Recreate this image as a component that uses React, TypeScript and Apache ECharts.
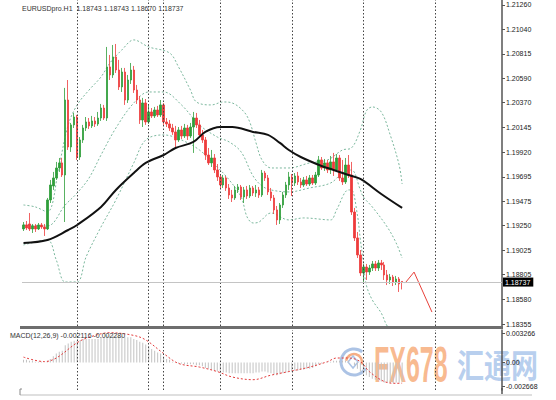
import React, { useEffect, useRef } from "react";
import * as echarts from "echarts";

const TITLE = "EURUSDpro.H1  1.18743 1.18743 1.18670 1.18737";
const MACD_TITLE = "MACD(12,26,9) -0.002116 -0.002280";
const PRICE_TICKS = [1.18355, 1.1858, 1.18805, 1.19025, 1.1925, 1.19475, 1.19695, 1.1992, 1.20145, 1.2037, 1.2059, 1.20815, 1.2104, 1.2126];
const MACD_TICKS = [-0.002668, 0, 0.003266];
const LAST_PRICE = 1.18737;
const SLOT_COUNT = 161;
const DAY_LINES = [18, 42, 47, 66, 90, 114, 138];

// [open, high, low, close]
const CANDLES: number[][] = [
  [1.19221, 1.19284, 1.19202, 1.19257], [1.19257, 1.19293, 1.19211, 1.1923], [1.19266, 1.19366, 1.19202, 1.19221], [1.19221, 1.19266, 1.19184, 1.19248],
  [1.19248, 1.19266, 1.19193, 1.19221], [1.19221, 1.19275, 1.19211, 1.19257], [1.19257, 1.19275, 1.19221, 1.19239], [1.19239, 1.19266, 1.19157, 1.19221],
  [1.19221, 1.19503, 1.19211, 1.19485], [1.19485, 1.19667, 1.19457, 1.19621], [1.19612, 1.1974, 1.19576, 1.19685], [1.19685, 1.19831, 1.19667, 1.19776],
  [1.19776, 1.19867, 1.1974, 1.19822], [1.19822, 1.19867, 1.19694, 1.19712], [1.19712, 1.20505, 1.19284, 1.20395], [1.20395, 1.20577, 1.1994, 1.19967],
  [1.19967, 1.20186, 1.19922, 1.20168], [1.20168, 1.20277, 1.2014, 1.2024], [1.2024, 1.20259, 1.19849, 1.19876], [1.19876, 1.20058, 1.19849, 1.20031],
  [1.20031, 1.20168, 1.20004, 1.2014], [1.2014, 1.2024, 1.20113, 1.20195], [1.20195, 1.20231, 1.20131, 1.20159], [1.20159, 1.2025, 1.2014, 1.20204],
  [1.20204, 1.2024, 1.20149, 1.20177], [1.20177, 1.20286, 1.20159, 1.20231], [1.20231, 1.20359, 1.20204, 1.20322], [1.20322, 1.2035, 1.20213, 1.20231],
  [1.20231, 1.20878, 1.20204, 1.20696], [1.20696, 1.20805, 1.20577, 1.20623], [1.20623, 1.20896, 1.20596, 1.20787], [1.20787, 1.20905, 1.20641, 1.20668],
  [1.20668, 1.2076, 1.20486, 1.20514], [1.20514, 1.20687, 1.20468, 1.2065], [1.2065, 1.20687, 1.2035, 1.20395], [1.20395, 1.20623, 1.20368, 1.20577],
  [1.20577, 1.20732, 1.20541, 1.20668], [1.20668, 1.20705, 1.20459, 1.20486], [1.20486, 1.20532, 1.20359, 1.20395], [1.20395, 1.20432, 1.20177, 1.20213],
  [1.20213, 1.20414, 1.20149, 1.20368], [1.20368, 1.20404, 1.20168, 1.20195], [1.20195, 1.2035, 1.20177, 1.20286], [1.20286, 1.20322, 1.20231, 1.2025],
  [1.2025, 1.20332, 1.20231, 1.20304], [1.20304, 1.20341, 1.2024, 1.20259], [1.20259, 1.20395, 1.2024, 1.2035], [1.2035, 1.20368, 1.20168, 1.20195],
  [1.20195, 1.20231, 1.20149, 1.20177], [1.20177, 1.20213, 1.20113, 1.2014], [1.2014, 1.20177, 1.20077, 1.20104], [1.20104, 1.20159, 1.19967, 1.20031],
  [1.20031, 1.20149, 1.20013, 1.20122], [1.20122, 1.20159, 1.2004, 1.20067], [1.20067, 1.20177, 1.20049, 1.2014], [1.2014, 1.20168, 1.20031, 1.20067],
  [1.20067, 1.20186, 1.20049, 1.20149], [1.20149, 1.20286, 1.19913, 1.20231], [1.20231, 1.20277, 1.2014, 1.20168], [1.20168, 1.20213, 1.20058, 1.20077],
  [1.20077, 1.20122, 1.20004, 1.20031], [1.20031, 1.20058, 1.19849, 1.19894], [1.19894, 1.19958, 1.19803, 1.19822], [1.19822, 1.1994, 1.19785, 1.19867],
  [1.19867, 1.19903, 1.1973, 1.19758], [1.19758, 1.19812, 1.19658, 1.19694], [1.19694, 1.19721, 1.19585, 1.19621], [1.19621, 1.19712, 1.19594, 1.19685],
  [1.19685, 1.19703, 1.19567, 1.19594], [1.19594, 1.1963, 1.19494, 1.1953], [1.1953, 1.19576, 1.19466, 1.19503], [1.19503, 1.19612, 1.19485, 1.19576],
  [1.19576, 1.1963, 1.19548, 1.19603], [1.19603, 1.19621, 1.19485, 1.19512], [1.19512, 1.19603, 1.19457, 1.19576], [1.19576, 1.19612, 1.19494, 1.19521],
  [1.19521, 1.19621, 1.19503, 1.19594], [1.19594, 1.19612, 1.19521, 1.19548], [1.19548, 1.19621, 1.19512, 1.19576], [1.19576, 1.19603, 1.19503, 1.1953],
  [1.1953, 1.19758, 1.19512, 1.1973], [1.1973, 1.19749, 1.19658, 1.19685], [1.19685, 1.19712, 1.1953, 1.19558], [1.19558, 1.19594, 1.19476, 1.19503],
  [1.19503, 1.1953, 1.19357, 1.19394], [1.19394, 1.1943, 1.19257, 1.19303], [1.19303, 1.19457, 1.19266, 1.19439], [1.19439, 1.19558, 1.19412, 1.1953],
  [1.1953, 1.19649, 1.19503, 1.19621], [1.19621, 1.1974, 1.19576, 1.19694], [1.19694, 1.19721, 1.19521, 1.19639], [1.19639, 1.1973, 1.19612, 1.19703],
  [1.19703, 1.1974, 1.19621, 1.19649], [1.19649, 1.19685, 1.19594, 1.19621], [1.19621, 1.19694, 1.19603, 1.19667], [1.19667, 1.19703, 1.19612, 1.1963],
  [1.1963, 1.19712, 1.19612, 1.19685], [1.19685, 1.19712, 1.19621, 1.19639], [1.19639, 1.1974, 1.19621, 1.19712], [1.19712, 1.19885, 1.19694, 1.19849],
  [1.19849, 1.19876, 1.19758, 1.19776], [1.19776, 1.19858, 1.19749, 1.19822], [1.19822, 1.19849, 1.1973, 1.19758], [1.19758, 1.19885, 1.19721, 1.19831],
  [1.19831, 1.19913, 1.19703, 1.19758], [1.19758, 1.19903, 1.1974, 1.19867], [1.19867, 1.19894, 1.19658, 1.19685], [1.19685, 1.19849, 1.19621, 1.19649],
  [1.19649, 1.19867, 1.1963, 1.19803], [1.19803, 1.19894, 1.19685, 1.19712], [1.19712, 1.19831, 1.19348, 1.19375], [1.19375, 1.19412, 1.19111, 1.19139],
  [1.19139, 1.19193, 1.18956, 1.18984], [1.18984, 1.19029, 1.18793, 1.1882], [1.1882, 1.18902, 1.1872, 1.18874], [1.18874, 1.18902, 1.18756, 1.18829],
  [1.18829, 1.18893, 1.18802, 1.18865], [1.18865, 1.18929, 1.18838, 1.18902], [1.18902, 1.18929, 1.18838, 1.18865], [1.18865, 1.18938, 1.18838, 1.18911],
  [1.18911, 1.18938, 1.18847, 1.18893], [1.18893, 1.1892, 1.18756, 1.18802], [1.18802, 1.18847, 1.1871, 1.18756], [1.18756, 1.18811, 1.1872, 1.18783],
  [1.18783, 1.18802, 1.18701, 1.18738], [1.18738, 1.18793, 1.1871, 1.18765], [1.18765, 1.18783, 1.18647, 1.1872], [1.18743, 1.18743, 1.1867, 1.18737],
];

// [candle index, value]
const MA: number[][] = [
  [0, 1.19093], [8, 1.1912], [15, 1.19211], [18, 1.19257], [26, 1.19421], [31, 1.19576], [37, 1.1973], [41, 1.19822],
  [47, 1.19894], [51, 1.19958], [57, 1.20013], [61, 1.20104], [66, 1.20149], [70, 1.20149], [77, 1.20104], [82, 1.20077],
  [86, 1.20004], [89, 1.1994], [93, 1.19876], [100, 1.19794], [104, 1.19758], [109, 1.19712], [113, 1.19676], [120, 1.19539], [127, 1.19412],
];
const BB_UPPER: number[][] = [
  [0, 1.19439], [4, 1.19421], [8, 1.19375], [12, 1.19803], [15, 1.20168], [18, 1.2035], [22, 1.20486], [26, 1.20605],
  [29, 1.20732], [33, 1.20851], [37, 1.20942], [42, 1.20878], [49, 1.20823], [52, 1.20696], [56, 1.20486], [58, 1.20377],
  [63, 1.2035], [67, 1.20377], [70, 1.20368], [74, 1.20286], [76, 1.20186], [78, 1.20004], [80, 1.19849], [83, 1.19776],
  [89, 1.19776], [96, 1.19822], [102, 1.19849], [107, 1.1994], [110, 1.19958], [113, 1.20122], [115, 1.20295], [117, 1.20332],
  [120, 1.20286], [123, 1.20077], [126, 1.19803], [127, 1.1963],
];
const BB_MIDDLE: number[][] = [
  [0, 1.19257], [8, 1.19248], [14, 1.19439], [18, 1.19548], [22, 1.19685], [26, 1.19894], [31, 1.2014], [37, 1.20368],
  [42, 1.20468], [47, 1.20468], [53, 1.2035], [59, 1.20168], [65, 1.20058], [69, 1.20013], [73, 1.19922], [77, 1.19703],
  [80, 1.19612], [83, 1.19576], [89, 1.19558], [96, 1.19594], [103, 1.19639], [107, 1.1973], [110, 1.19758], [113, 1.19576],
  [114, 1.19512], [117, 1.19421], [122, 1.19239], [125, 1.19093], [127, 1.18956],
];
const BB_LOWER: number[][] = [
  [0, 1.19075], [8, 1.1912], [11, 1.18938], [14, 1.18738], [18, 1.18738], [21, 1.18966], [26, 1.19239], [31, 1.19485],
  [37, 1.19822], [41, 1.20031], [47, 1.20077], [53, 1.20031], [59, 1.1994], [65, 1.19785], [69, 1.19667], [73, 1.19512],
  [75, 1.1933], [77, 1.19275], [79, 1.19284], [83, 1.19366], [89, 1.19303], [94, 1.19321], [103, 1.19303], [105, 1.19394],
  [109, 1.19576], [110, 1.19576], [112, 1.19348], [113, 1.1912], [114, 1.1892], [115, 1.1871], [117, 1.18574], [120, 1.18455],
  [122, 1.18337], [125, 1.18246], [127, 1.18164],
];
const TREND: number[][] = [[128, 1.18728], [131, 1.18828], [137, 1.18464]];

const MACD_HIST: number[] = [
  0.0003, 0.0003, 0.0002, 0.0002, 0.0001, 0.0001, 0.0001, 0.0,
  0.0002, 0.0004, 0.0007, 0.001, 0.0012, 0.0013, 0.0019, 0.0021,
  0.0023, 0.0024, 0.0024, 0.0025, 0.0026, 0.0026, 0.0026, 0.0026,
  0.0026, 0.0026, 0.0028, 0.0028, 0.003, 0.003, 0.003, 0.003,
  0.0029, 0.0029, 0.0028, 0.0028, 0.0028, 0.0026, 0.0025, 0.0023,
  0.0022, 0.002, 0.0018, 0.0015, 0.0013, 0.0011, 0.001, 0.0007,
  0.0004, 0.0003, 0.0001, 0.0, -0.0001, -0.0001, -0.0002, -0.0002,
  -0.0002, -0.0002, -0.0003, -0.0003, -0.0004, -0.0006, -0.0007, -0.0008,
  -0.0009, -0.001, -0.001, -0.0011, -0.0011, -0.0012, -0.0012, -0.0012,
  -0.0012, -0.0012, -0.0012, -0.0012, -0.0012, -0.0012, -0.0011, -0.0011,
  -0.001, -0.001, -0.0011, -0.0012, -0.0013, -0.0014, -0.0013, -0.0012,
  -0.0011, -0.001, -0.001, -0.0009, -0.0009, -0.0008, -0.0008, -0.0007,
  -0.0007, -0.0006, -0.0004, -0.0002, -0.0001, 0.0, 0.0001, 0.0001,
  0.0002, 0.0002, 0.0002, 0.0002, 0.0002, 0.0002, 0.0, -0.0003,
  -0.0007, -0.001, -0.0012, -0.0014, -0.0016, -0.0018, -0.0019, -0.002,
  -0.0021, -0.0022, -0.0022, -0.0023, -0.0023, -0.0022, -0.0022, -0.002116,
];
const MACD_SIGNAL: number[][] = [
  [0, 0.0006], [7, 0.0001], [11, 0.0005], [18, 0.0022], [22, 0.0028], [29, 0.0033], [37, 0.003], [41, 0.0025],
  [47, 0.001], [52, -0.0001], [59, -0.0005], [65, -0.001], [70, -0.0016], [77, -0.0019], [83, -0.0014], [89, -0.001],
  [96, -0.0005], [102, 0.0001], [105, 0.0005], [109, 0.0005], [113, 0.0001], [116, -0.001], [121, -0.0021], [125, -0.0023], [127, -0.00228],
];

const FONT = "Liberation Sans";

export default function App() {
  const ref = useRef<HTMLDivElement>(null);
  useEffect(() => {
    if (!ref.current) return;
    const chart = echarts.init(ref.current, undefined, { renderer: "svg" });
    const cats = Array.from({ length: SLOT_COUNT }, (_, i) => String(i));
    const vLines = DAY_LINES.map((v) => ({ xAxis: v }));
    const bbStyle = { color: "#7cb89e", width: 1, type: [2, 2] as number[] };
    const option: any = {
      animation: false,
      backgroundColor: "#ffffff",
      textStyle: { fontFamily: FONT },
      grid: [
        { left: 22, right: 54, top: 0, bottom: 74 },
        { left: 22, right: 54, top: 330, bottom: 10 },
      ],
      xAxis: [
        { type: "category", gridIndex: 0, data: cats, boundaryGap: true, show: false },
        { type: "category", gridIndex: 1, data: cats, boundaryGap: true, show: false },
      ],
      yAxis: [
        {
          type: "value", gridIndex: 0, position: "right", min: 1.18337, max: 1.213055,
          splitLine: { show: false },
          axisLine: { show: true, lineStyle: { color: "#555", width: 1.5 } },
          axisTick: { show: true, length: 3, lineStyle: { color: "#555" }, customValues: PRICE_TICKS },
          axisLabel: { customValues: PRICE_TICKS, formatter: (v: number) => v.toFixed(5), fontSize: 7, color: "#222", margin: 4, fontFamily: FONT },
        },
        {
          type: "value", gridIndex: 1, position: "right", min: -0.00304, max: 0.0036,
          splitLine: { show: false },
          axisLine: { show: true, lineStyle: { color: "#555", width: 1.5 } },
          axisTick: { show: true, length: 3, lineStyle: { color: "#555" }, customValues: MACD_TICKS },
          axisLabel: { customValues: MACD_TICKS, formatter: (v: number) => (v === 0 ? "0.00" : v.toFixed(6)), fontSize: 7, color: "#222", margin: 4, fontFamily: FONT },
        },
      ],
      series: [
        { type: "line", name: "upper", xAxisIndex: 0, yAxisIndex: 0, data: BB_UPPER, smooth: 0.35, showSymbol: false, lineStyle: bbStyle, z: 1 },
        { type: "line", name: "middle", xAxisIndex: 0, yAxisIndex: 0, data: BB_MIDDLE, smooth: 0.35, showSymbol: false, lineStyle: bbStyle, z: 1 },
        { type: "line", name: "lower", xAxisIndex: 0, yAxisIndex: 0, data: BB_LOWER, smooth: 0.35, showSymbol: false, lineStyle: bbStyle, z: 1 },
        {
          type: "candlestick", name: "EURUSD", xAxisIndex: 0, yAxisIndex: 0,
          data: CANDLES.map(([o, h, l, c]) => [o, c, l, h]),
          barWidth: 2,
          itemStyle: { color: "#2f9e3a", color0: "#ee3b3b", borderColor: "#2f9e3a", borderColor0: "#ee3b3b", borderWidth: 0.8 },
          z: 2,
          markLine: {
            silent: true, symbol: ["none", "none"], animation: false,
            label: { show: false },
            lineStyle: { color: "#444", type: [1.5, 2], width: 1 },
            data: vLines,
          },
        },
        { type: "line", name: "MA", xAxisIndex: 0, yAxisIndex: 0, data: MA, smooth: 0.35, showSymbol: false, lineStyle: { color: "#111", width: 2 }, z: 3 },
        {
          type: "line", name: "trend", xAxisIndex: 0, yAxisIndex: 0, data: TREND, showSymbol: false, lineStyle: { color: "#e8413a", width: 1 }, z: 3,
          markLine: {
            silent: true, symbol: ["none", "none"], animation: false, precision: 5,
            lineStyle: { color: "#c4c4c4", type: "solid", width: 1 },
            label: { show: true, position: "end", formatter: LAST_PRICE.toFixed(5), color: "#fff", backgroundColor: "#000", fontSize: 7, padding: [1, 3, 1, 2], distance: 1, fontFamily: FONT },
            data: [{ yAxis: LAST_PRICE }],
          },
        },
        {
          type: "bar", name: "MACD", xAxisIndex: 1, yAxisIndex: 1, data: MACD_HIST, barWidth: 1,
          itemStyle: { color: "#c2c2c2" },
          markLine: {
            silent: true, symbol: ["none", "none"], animation: false, label: { show: false },
            lineStyle: { color: "#444", type: [1.5, 2], width: 1 },
            data: vLines,
          },
        },
        { type: "line", name: "Signal", xAxisIndex: 1, yAxisIndex: 1, data: MACD_SIGNAL, smooth: 0.35, showSymbol: false, lineStyle: { color: "#e23b3b", width: 1, type: [2, 2] }, z: 3 },
      ],
      graphic: [
        { type: "rect", shape: { x: 20, y: 326, width: 483, height: 3 }, style: { fill: "#6e6e6e" }, z: 50 },
        { type: "line", shape: { x1: 20, y1: 395, x2: 532, y2: 395 }, style: { stroke: "#d4d4d4", lineWidth: 1.5 }, z: 50 },
        { type: "line", shape: { x1: 502, y1: 388, x2: 502, y2: 394 }, style: { stroke: "#555", lineWidth: 1.5 }, z: 50 },
        { type: "polyline", shape: { points: [[22, 389], [20, 389], [20, 395]] }, style: { stroke: "#888", lineWidth: 1, fill: "none" }, z: 50 },
        { type: "text", x: 22, y: 8, style: { text: TITLE, fontSize: 7, fontFamily: FONT, fill: "#333", verticalAlign: "middle" }, z: 60 },
        { type: "text", x: 10, y: 335, style: { text: MACD_TITLE, fontSize: 7, fontFamily: FONT, fill: "#333", verticalAlign: "middle" }, z: 60 },
        {
          type: "group", z: 70, silent: true,
          children: [
            { type: "arc", shape: { cx: 354, cy: 362, r: 13, startAngle: 0.5, endAngle: 5.4 }, style: { stroke: "#9db8e0", lineWidth: 3, fill: "none", opacity: 0.85 } },
            { type: "arc", shape: { cx: 354, cy: 362, r: 8, startAngle: 3.3, endAngle: 6.6 }, style: { stroke: "#f3a070", lineWidth: 2.5, fill: "none", opacity: 0.85 } },
            { type: "polygon", shape: { points: [[353, 356], [358, 362], [353, 368], [348, 362]] }, style: { stroke: "#9db8e0", lineWidth: 1.5, fill: "none", opacity: 0.85 } },
            { type: "text", x: 374, y: 364, scaleX: 0.5, style: { text: "FX678", fontSize: 50, fontWeight: "bold", fontFamily: FONT, fill: "#f6a36c", opacity: 0.75, verticalAlign: "middle" } },
            { type: "text", x: 457, y: 364, scaleX: 0.82, style: { text: "汇通网", fontSize: 33, fontWeight: "bold", fontFamily: "Noto Sans CJK SC", fill: "#a5c2ea", opacity: 0.8, verticalAlign: "middle" } },
          ],
        },
      ],
    };
    chart.setOption(option);
    return () => chart.dispose();
  }, []);
  return (
    <div
      ref={ref}
      style={{ position: "fixed", left: 0, top: 0, width: 556, height: 400, background: "#fff" }}
    />
  );
}
